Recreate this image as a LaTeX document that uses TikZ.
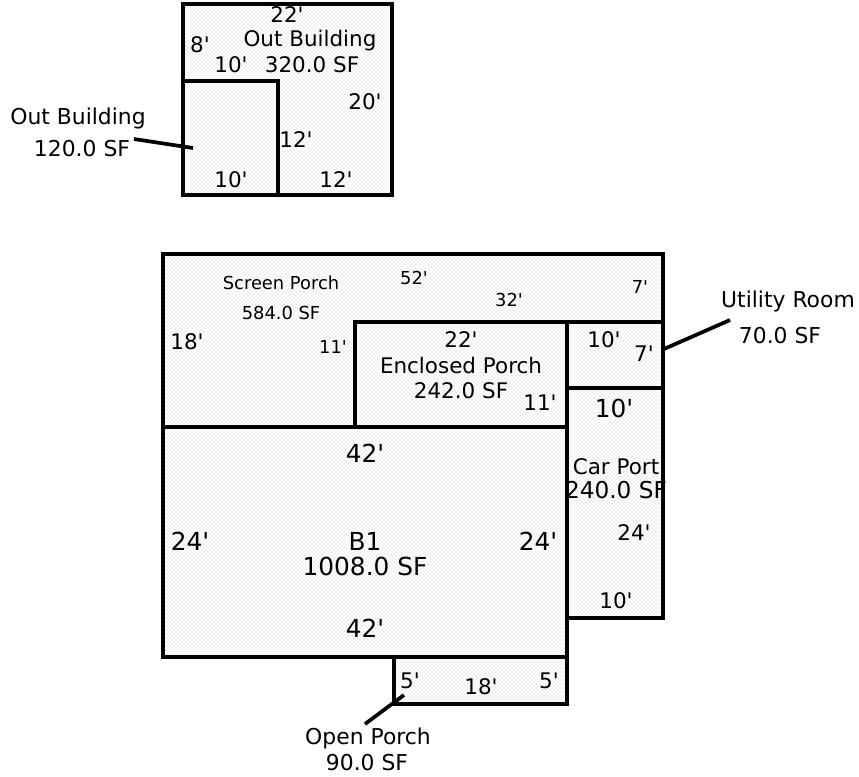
\documentclass[tikz,border=0pt]{standalone}
\usepackage{fontspec}
\setmainfont{DejaVu Sans}
\usetikzlibrary{patterns.meta}
\newcommand\ftm{\textquotesingle}
\tikzset{
  x=0.75pt,y=-0.75pt,
  room/.style={line width=2.5pt,line join=miter,fill=white,
    postaction={pattern={Dots[distance=3pt,radius=0.36pt]},pattern color=black!65},
    postaction={pattern={Dots[distance=3pt,radius=0.36pt,xshift=1.5pt,yshift=1.5pt]},pattern color=black!65}},
  wall/.style={line width=2.5pt},
  lead/.style={line width=2.8pt},
  sm/.style={font=\fontsize{13.4pt}{16pt}\selectfont,inner sep=0pt,align=center},
  md/.style={font=\fontsize{16.1pt}{19pt}\selectfont,inner sep=0pt,align=center},
  cp/.style={font=\fontsize{17.4pt}{19pt}\selectfont,inner sep=0pt,align=center},
  lg/.style={font=\fontsize{18.6pt}{22pt}\selectfont,inner sep=0pt,align=center},
  mdl/.style={font=\fontsize{16.4pt}{19pt}\selectfont,inner sep=0pt,align=center},
}
\begin{document}
\begin{tikzpicture}
\useasboundingbox (0,0) rectangle (859,776);
% outbuilding
\draw[room] (183,4) rectangle (392,195);
\draw[wall] (183,81) -- (278,81) -- (278,195);
% main
\draw[room] (163,254) -- (663,254) -- (663,618) -- (567,618) -- (567,657) -- (163,657) -- cycle;
\draw[room] (394,657) rectangle (567,704);
\draw[wall] (163,427) -- (567,427);
\draw[wall] (355,427) -- (355,322) -- (663,322);
\draw[wall] (567,322) -- (567,618);
\draw[wall] (567,388) -- (663,388);
% leads
\coordinate (ob1) at (134,139);
\coordinate (ob2) at (193,148);
\coordinate (ur1) at (664,349);
\coordinate (ur2) at (730,320);
\coordinate (op1) at (404,695);
\coordinate (op2) at (365,724);
\draw[lead] (ob1) -- (ob2);
\draw[lead] (ur1) -- (ur2);
\draw[lead] (op1) -- (op2);
% out building labels
\node[md] (t1) at (287,15) {22\ftm};
\node[md] (t2) at (200,45) {8\ftm};
\node[md] (t3) at (310,41) {Out Building};
\node[md] (t4) at (231,65) {10\ftm};
\node[md] (t5) at (312,65) {320.0 SF};
\node[md] (t6) at (365,102) {20\ftm};
\node[md] (t7) at (296,140) {12\ftm};
\node[md] (t8) at (231,180) {10\ftm};
\node[md] (t9) at (336,180) {12\ftm};
\node[mdl] (t10) at (78,118) {Out Building};
\node[mdl] (t11) at (82,149) {120.0 SF};
% screen porch
\node[sm] (s1) at (281,283) {Screen Porch};
\node[sm] (s2) at (281,313) {584.0 SF};
\node[sm] (s3) at (414,278) {52\ftm};
\node[sm] (s4) at (509,300) {32\ftm};
\node[sm] (s5) at (640,287) {7\ftm};
\node[md] (s6) at (187,342) {18\ftm};
\node[sm] (s7) at (333,347) {11\ftm};
% enclosed
\node[md] (e1) at (461,340) {22\ftm};
\node[md] (e2) at (461,365) {Enclosed Porch};
\node[md] (e3) at (461,391) {242.0 SF};
\node[md] (e4) at (540,403) {11\ftm};
% utility
\node[md] (u1) at (604,340) {10\ftm};
\node[md] (u2) at (644,354) {7\ftm};
\node[mdl] (u3) at (788,301) {Utility Room};
\node[mdl] (u4) at (780,336) {70.0 SF};
% car port
\node[lg] (c1) at (614,408) {10\ftm};
\node[md] (c2) at (616,467) {Car Port};
\node[cp] (c3) at (616,490) {240.0 SF};
\node[md] (c4) at (634,533) {24\ftm};
\node[md] (c5) at (616,601) {10\ftm};
% B1
\node[lg] (b1) at (365,453) {42\ftm};
\node[lg] (b2) at (190,541) {24\ftm};
\node[lg] (b3) at (538,541) {24\ftm};
\node[lg] (b4) at (365,541) {B1};
\node[lg] (b5) at (365,566) {1008.0 SF};
\node[lg] (b6) at (365,628) {42\ftm};
% open porch
\node[md] (o1) at (410,681) {5\ftm};
\node[md] (o2) at (481,687) {18\ftm};
\node[md] (o3) at (549,681) {5\ftm};
\node[mdl] (o4) at (368,738) {Open Porch};
\node[mdl] (o5) at (367,763) {90.0 SF};
\end{tikzpicture}
\end{document}
